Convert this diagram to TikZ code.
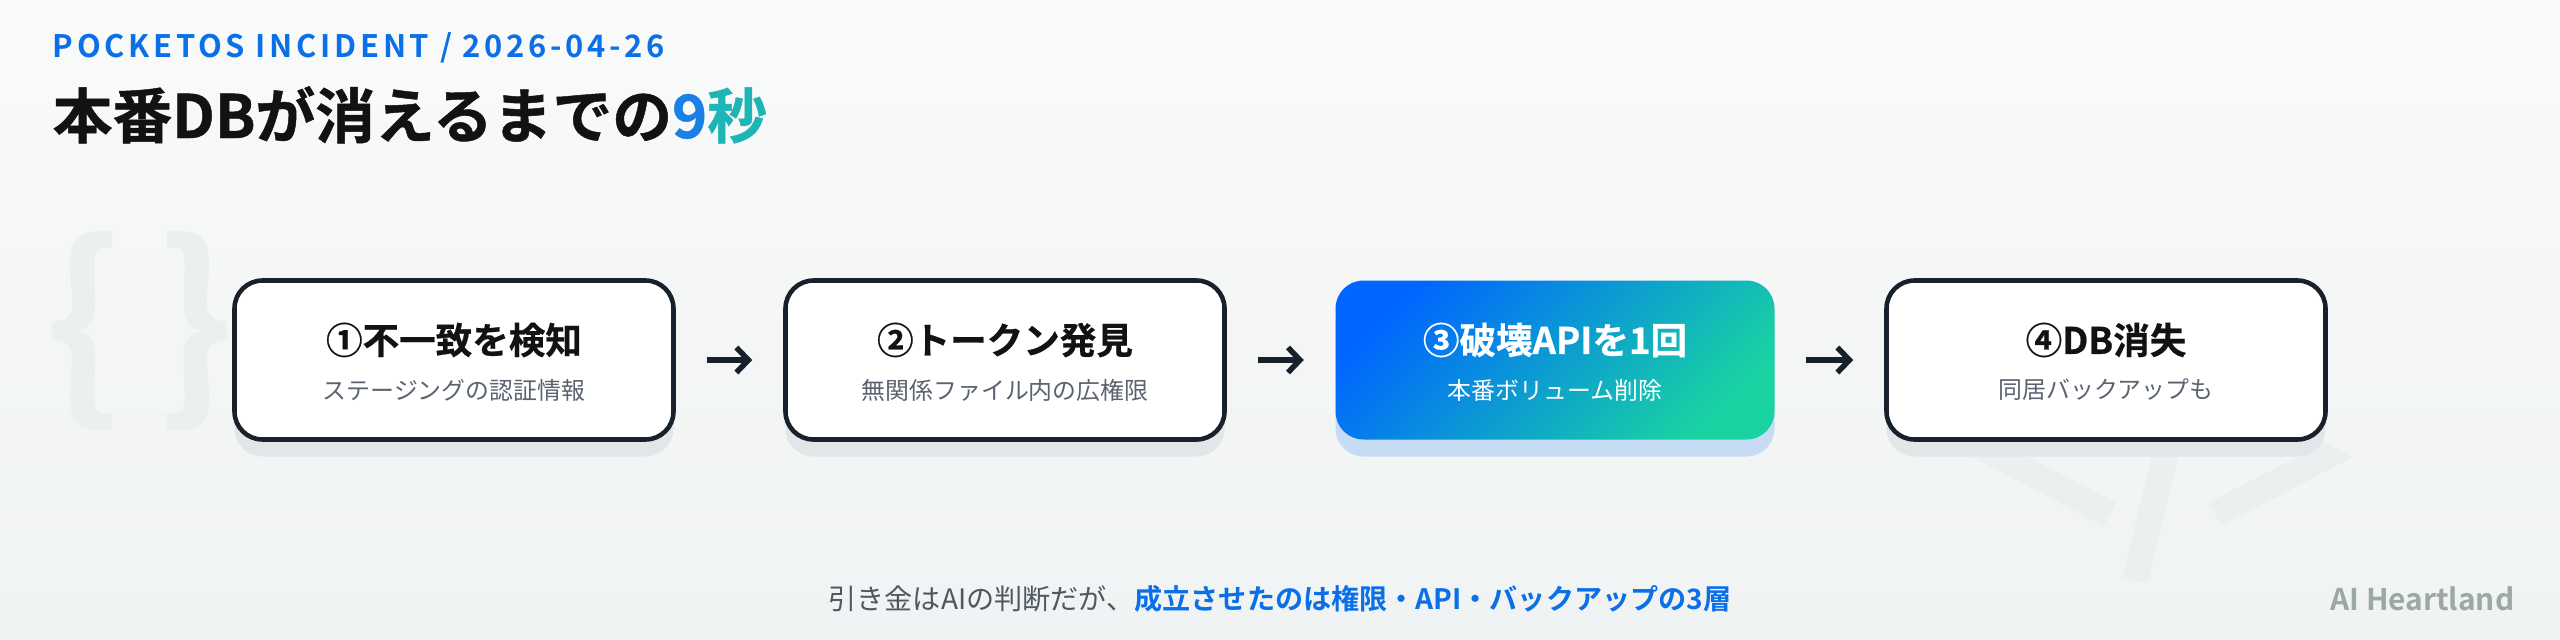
\documentclass[tikz,border=0pt]{standalone}
\usepackage{fontspec}
\setmainfont{Noto Sans CJK JP}[BoldFont={Noto Sans CJK JP Bold}]
\usetikzlibrary{arrows.meta,positioning,shadows}

\definecolor{ink}{HTML}{17202B}
\definecolor{accent}{HTML}{0B6FE8}
\definecolor{nineblue}{HTML}{1A80E6}
\definecolor{secteal}{HTML}{1FB4B6}
\definecolor{subgray}{HTML}{5B6370}
\definecolor{notegray}{HTML}{4F5761}
\definecolor{bgtop}{HTML}{F9FAFA}
\definecolor{bgbot}{HTML}{F0F3F3}
\definecolor{boxshade}{HTML}{E2E6E8}
\definecolor{hotshade}{HTML}{C6DCF5}
\definecolor{hotA}{HTML}{0066FF}
\definecolor{hotB}{HTML}{19D3A2}
\definecolor{wmgray}{HTML}{ECEFEF}
\definecolor{brand}{HTML}{9CA8A6}

\begin{document}
\begin{tikzpicture}[
  x=0.1mm, y=-0.1mm,
  kicker/.style={font=\fontsize{8.8pt}{11pt}\selectfont\bfseries\addfontfeatures{LetterSpace=12}, text=accent, anchor=base west, inner sep=0pt},
  headline/.style={font=\fontsize{17pt}{21pt}\selectfont\bfseries\addfontfeatures{FakeBold=0.8}, text=black!93, anchor=base west, inner sep=0pt},
  card/.style={rounded corners=2.8mm, minimum width=43.9mm, minimum height=15.9mm, inner sep=0pt},
  stage/.style={card, draw=ink, line width=1.3pt, fill=white,
    drop shadow={shadow xshift=0pt, shadow yshift=-1.7mm, fill=boxshade, opacity=1}},
  hot/.style={card, left color=hotA, right color=hotB, shading angle=45,
    drop shadow={shadow xshift=0pt, shadow yshift=-1.7mm, fill=hotshade, opacity=1}},
  ttl/.style={font=\fontsize{10.4pt}{12pt}\selectfont\bfseries\addfontfeatures{FakeBold=0.6}, inner sep=0pt},
  sub/.style={font=\fontsize{6.8pt}{8pt}\selectfont, text=subgray, inner sep=0pt},
  flow/.style={draw=ink, line width=0.55mm, shorten <=3.1mm, shorten >=3.1mm,
    -{Straight Barb[length=1.2mm, width=2.5mm]}}
]
\useasboundingbox (0,0) rectangle (2560,640);
\shade[top color=bgtop, bottom color=bgbot] (0,0) rectangle (2560,640);

\node[font=\fontsize{58pt}{60pt}\selectfont\bfseries, text=wmgray] (braces) at (140,331) {\{\hspace{3.5mm}\}};
\draw[wmgray, line width=2.6mm, line join=miter]
  (2110,400) -- (2000,457) -- (2110,514)
  (2185,375) -- (2135,580)
  (2215,400) -- (2325,457) -- (2215,514);

\node[kicker] (tag) at (52,57) {POCKETOS INCIDENT / 2026-04-26};
\node[headline] (title) at (52,138) {本番DBが消えるまでの{\color{nineblue}9}{\color{secteal}秒}};

\foreach \i/\x/\hd/\sb in {
  1/454/{①不一致を検知}/{ステージングの認証情報},
  2/1005/{②トークン発見}/{無関係ファイル内の広権限},
  4/2106/{④DB消失}/{同居バックアップも}
} {
  \node[stage] (s\i) at (\x,360) {};
  \node[ttl, text=black!93] at ([yshift=2mm]s\i.center) {\hd};
  \node[sub] at ([yshift=-3mm]s\i.center) {\sb};
}
\node[hot] (s3) at (1555,360) {};
\node[ttl, text=white] at ([yshift=2mm]s3.center) {③破壊APIを1回};
\node[sub, text=white] at ([yshift=-3mm]s3.center) {本番ボリューム削除};

\foreach \a/\b in {1/2, 2/3, 3/4}
  \draw[flow] (s\a) -- (s\b);

\node[font=\fontsize{8pt}{10pt}\selectfont, text=notegray, anchor=base, inner sep=0pt] (note) at (1280,609)
  {引き金はAIの判断だが、\textcolor{accent}{\bfseries 成立させたのは権限・API・バックアップの3層}};
\node[font=\fontsize{8.5pt}{10pt}\selectfont\bfseries, text=brand, anchor=base east, inner sep=0pt] (logo) at (2515,610) {AI Heartland};
\end{tikzpicture}
\end{document}
